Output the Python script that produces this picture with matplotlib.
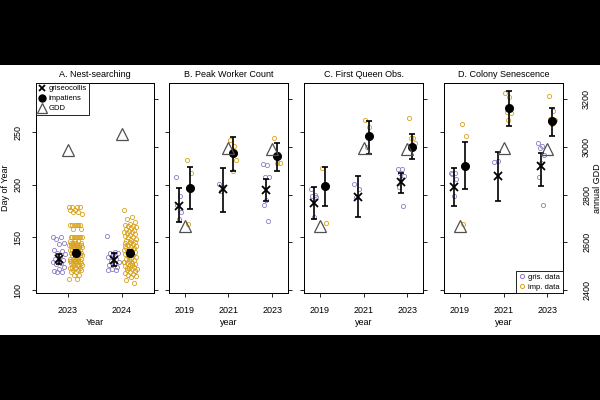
import numpy as np
import matplotlib.pyplot as plt
from matplotlib.lines import Line2D
from matplotlib.patches import Rectangle

plt.rcParams['font.family'] = ['Liberation Sans', 'DejaVu Sans']
plt.rcParams['font.size'] = 6.5

GRIS = '#8E7CC3'
IMP = '#D9A21B'
TRI = '#505050'

# ---- A. nest-searching (day of year, raw observations) ----
nest_years = [2023, 2024]
nest_gdd = [2987, 3054]
nest_gris_2023 = [150, 150, 149, 145, 144, 138, 137, 135, 134, 132, 130, 129, 128, 127,
                  126, 125, 122, 120, 118, 117, 117]
nest_gris_2024 = [151.5, 136, 135, 135, 134, 131, 130, 128, 127, 126, 124, 122, 120, 119, 119]
nest_imp_2023 = ([179] * 4 + [176] * 2 + [174] * 2 + [172] + [162] * 6 + [158] * 2 + [150] * 8
                 + [147] * 3 + [145] * 4 + [143] * 8 + [141] * 4 + [138] * 5 + [135] * 6
                 + [133] * 4 + [130] * 6 + [128] * 5 + [126] * 4 + [124] * 4 + [121] * 4
                 + [119] * 3 + [117] * 2 + [114] * 2 + [111] * 2)
nest_imp_2024 = [176, 169, 168, 165, 163, 162, 161, 161, 160, 159, 158, 157, 156, 155, 155,
                 154, 153, 152, 151, 150, 150, 149, 148, 147, 146, 146, 145, 144, 143, 142,
                 141, 140, 140, 139, 138, 137, 136, 136, 135, 134, 133, 132, 131, 130, 130,
                 129, 128, 127, 126, 126, 125, 124, 123, 122, 121, 120, 120, 119, 118, 117,
                 116, 115, 114, 113, 112, 110, 107, 130, 127, 124, 121, 118, 145, 142, 139]
nest_gris_mean = [129.2, 128.5]
nest_gris_lo = [124.7, 122.8]
nest_gris_hi = [134.0, 135.5]
nest_imp_mean = [135.5, 135.5]
nest_imp_lo = [132.5, 132.5]
nest_imp_hi = [138.5, 138.5]

# ---- B, C, D (2019, 2021, 2023) ----
years = [2019, 2021, 2023]
annual_gdd = [2668, 2995, 2990]

peak_gris_pts = [[207, 189, 181, 174, 168], [201, 198, 194],
                 [220, 218.5, 207, 207, 186, 180.5, 165.6]]
peak_imp_pts = [[223.6, 210.9, 162.4], [243, 237, 231, 224, 213], [244, 229, 227, 221, 221]]
peak_gris_mean = [180.1, 195.7, 195.0]
peak_gris_lo = [164.9, 174.4, 184.6]
peak_gris_hi = [196.7, 216.3, 205.2]
peak_imp_mean = [197.2, 229.9, 227.4]
peak_imp_lo = [176.7, 213.1, 213.4]
peak_imp_hi = [217.2, 245.4, 239.4]

queen_gris_pts = [[196, 190, 189.5, 188.5, 169.5], [200.5, 195.7, 188],
                  [215, 215, 211, 208.7, 206, 198, 180]]
queen_imp_pts = [[216.3, 163.4], [262, 255, 235.6], [263, 244.5, 244, 240, 236]]
queen_gris_mean = [183.0, 188.7, 202.4]
queen_gris_lo = [168.0, 169.7, 192.5]
queen_gris_hi = [197.9, 208.4, 211.5]
queen_imp_mean = [198.9, 246.4, 235.6]
queen_imp_lo = [179.8, 229.0, 224.2]
queen_imp_hi = [217.2, 260.9, 248.0]

sen_gris_pts = [[211, 211, 210, 206, 189.6], [221.4, 222.6],
                [240, 237, 235, 228, 221, 207, 181]]
sen_imp_pts = [[258, 246, 162.4], [287.5, 283.5, 269, 268.5, 261.7], [284, 270.4, 262.3, 262, 258]]
sen_gris_mean = [198.2, 208.4, 218.2]
sen_gris_lo = [180.1, 184.6, 199.1]
sen_gris_hi = [215.7, 230.9, 229.9]
sen_imp_mean = [218.2, 272.7, 260.9]
sen_imp_lo = [195.7, 255.9, 246.7]
sen_imp_hi = [240.4, 289.5, 273.3]


def jitter(n, center, hw):
    # deterministic spread of points around a centre
    return center + ((np.arange(n) * 0.618034) % 1 - 0.5) * 2 * hw


def draw_panel(ax, yrs, gris_pts, imp_pts, gm, glo, ghi, im, ilo, ihi, gdd,
               goff, ioff, hw):
    for y, g, i in zip(yrs, gris_pts, imp_pts):
        ax.plot(jitter(len(g), y + goff, hw), g, 'o', ms=3, mfc='none', mec=GRIS, mew=0.6)
        ax.plot(jitter(len(i), y + ioff, hw), i, 'o', ms=3, mfc='none', mec=IMP, mew=0.6)
    gx = np.array(yrs) + goff
    ix = np.array(yrs) + ioff
    gm, im = np.array(gm), np.array(im)
    ax.errorbar(gx, gm, yerr=[gm - np.array(glo), np.array(ghi) - gm], fmt='none',
                ecolor='black', elinewidth=1.2, capsize=2.5, capthick=1.2)
    ax.errorbar(ix, im, yerr=[im - np.array(ilo), np.array(ihi) - im], fmt='none',
                ecolor='black', elinewidth=1.2, capsize=2.5, capthick=1.2)
    ax.plot(gx, gm, 'x', ms=5.5, mew=1.3, color='black')
    ax.plot(ix, im, 'o', ms=5.5, color='black')
    ax.set_ylim(97, 297)
    ax.set_yticks([100, 150, 200, 250])
    tw = ax.twinx()
    tw.plot(yrs, gdd, '^', ms=8, mfc='none', mec=TRI, mew=0.9)
    tw.set_ylim(2386, 3270)
    tw.set_yticks([2400, 2600, 2800, 3000, 3200])
    for a in (ax, tw):
        a.tick_params(direction='out', length=3, width=0.6, pad=6.5)
        for s in a.spines.values():
            s.set_linewidth(0.7)
    return tw


fig = plt.figure(figsize=(6, 4), dpi=100, facecolor='black')
fig.add_artist(Rectangle((0, 0.1625), 1, 0.675, transform=fig.transFigure,
                         facecolor='white', edgecolor='none', zorder=-5))

bottom, height = 0.2668, 0.5265
axA = fig.add_axes([0.060, bottom, 0.196, height])
axB = fig.add_axes([0.2817, bottom, 0.1978, height])
axC = fig.add_axes([0.5072, bottom, 0.1973, height])
axD = fig.add_axes([0.7405, bottom, 0.1973, height])

twA = draw_panel(axA, nest_years, [nest_gris_2023, nest_gris_2024],
                 [nest_imp_2023, nest_imp_2024], nest_gris_mean, nest_gris_lo, nest_gris_hi,
                 nest_imp_mean, nest_imp_lo, nest_imp_hi, nest_gdd, -0.155, 0.15, 0.12)
axA.set_xlim(2022.42, 2024.58)
axA.set_xticks(nest_years)

panels = [
    (axB, peak_gris_pts, peak_imp_pts, peak_gris_mean, peak_gris_lo, peak_gris_hi,
     peak_imp_mean, peak_imp_lo, peak_imp_hi),
    (axC, queen_gris_pts, queen_imp_pts, queen_gris_mean, queen_gris_lo, queen_gris_hi,
     queen_imp_mean, queen_imp_lo, queen_imp_hi),
    (axD, sen_gris_pts, sen_imp_pts, sen_gris_mean, sen_gris_lo, sen_gris_hi,
     sen_imp_mean, sen_imp_lo, sen_imp_hi),
]
twins = []
for ax, gp, ip, gm, glo, ghi, im, ilo, ihi in panels:
    tw = draw_panel(ax, years, gp, ip, gm, glo, ghi, im, ilo, ihi, annual_gdd,
                    -0.27, 0.23, 0.15)
    ax.set_xlim(2018.28, 2023.71)
    ax.set_xticks(years)
    ax.tick_params(axis='y', labelleft=False)
    twins.append(tw)

for tw in [twA] + twins[:2]:
    tw.tick_params(axis='y', labelright=False)

# axis labels
axA.tick_params(axis='y', labelrotation=90)
for lab in axA.get_yticklabels():
    lab.set_va('center')
axA.set_ylabel('Day of Year', labelpad=3)
axA.set_xlabel('Year', labelpad=2)
for ax in (axB, axC, axD):
    ax.set_xlabel('year', labelpad=2)
twD = twins[2]
twD.tick_params(axis='y', labelrotation=90, pad=11)
for lab in twD.get_yticklabels():
    lab.set_va('center')
twD.set_ylabel('annual GDD', labelpad=1)

titles = ['A. Nest-searching', 'B. Peak Worker Count', 'C. First Queen Obs.',
          'D. Colony Senescence']
for ax, t in zip((axA, axB, axC, axD), titles):
    ax.set_title(t, fontsize=6.5, pad=4)

# legends
hA = [Line2D([], [], ls='none', marker='x', ms=5, mew=1.3, color='black'),
      Line2D([], [], ls='none', marker='o', ms=5, color='black'),
      Line2D([], [], ls='none', marker='^', ms=7, mfc='none', mec=TRI, mew=0.9)]
legA = twA.legend(hA, ['griseocollis', 'impatiens', 'GDD'], loc='upper left',
                  bbox_to_anchor=(0, 1), borderaxespad=0, fancybox=False, framealpha=1,
                  edgecolor='black', fontsize=5.5, handlelength=1.0, handletextpad=0.3,
                  labelspacing=0.35, borderpad=0.3)
legA.get_frame().set_linewidth(0.6)

hD = [Line2D([], [], ls='none', marker='o', ms=3, mfc='none', mec=GRIS, mew=0.7),
      Line2D([], [], ls='none', marker='o', ms=3, mfc='none', mec=IMP, mew=0.7)]
legD = twD.legend(hD, ['gris. data', 'imp. data'], loc='lower right',
                  bbox_to_anchor=(1, 0), borderaxespad=0, fancybox=False, framealpha=1,
                  edgecolor='black', fontsize=5.5, handlelength=1.0, handletextpad=0.3,
                  labelspacing=0.3, borderpad=0.35)
legD.get_frame().set_linewidth(0.6)

fig.savefig('out.png', dpi=100, facecolor='black')
